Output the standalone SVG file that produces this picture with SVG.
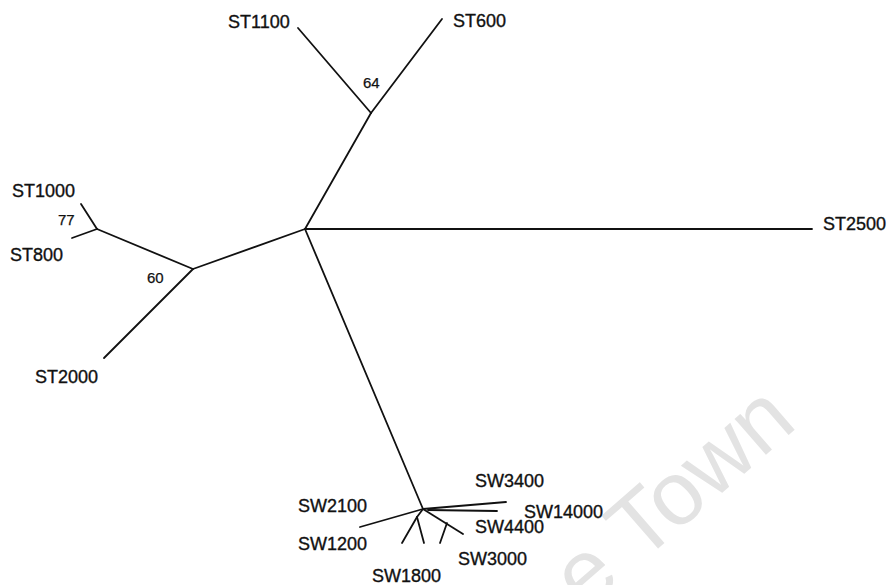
<svg xmlns="http://www.w3.org/2000/svg" width="890" height="585" viewBox="0 0 890 585">
<style>
.lbl{font-family:"Liberation Sans",Arial,sans-serif;font-size:18px;fill:#111;stroke:#111;stroke-width:0.35}
.num{font-family:"Liberation Sans",Arial,sans-serif;font-size:15px;fill:#111;stroke:#111;stroke-width:0.25}
.edge{stroke:#111;stroke-width:1.8;fill:none;stroke-linecap:round}
.wm{font-family:"Liberation Sans",Arial,sans-serif;font-size:90px;fill:#e3e3e3}
</style>
<rect width="890" height="585" fill="#fff"/>
<text class="wm" transform="translate(585,612) rotate(-41)">e Town</text>
<g id="connectors">
<line class="edge" x1="305" y1="229" x2="812" y2="229"/>
<line class="edge" x1="305" y1="229" x2="371" y2="113"/>
<line class="edge" x1="371" y1="113" x2="298" y2="28"/>
<line class="edge" x1="371" y1="113" x2="442" y2="19"/>
<line class="edge" x1="305" y1="229" x2="193" y2="269"/>
<line class="edge" x1="193" y1="269" x2="97" y2="229"/>
<line class="edge" x1="97" y1="229" x2="81" y2="204"/>
<line class="edge" x1="97" y1="229" x2="72" y2="238"/>
<line class="edge" x1="193" y1="269" x2="104" y2="358"/>
<line class="edge" x1="305" y1="229" x2="423" y2="509"/>
<line class="edge" x1="423" y1="509" x2="360" y2="527"/>
<line class="edge" x1="423" y1="509" x2="506" y2="502"/>
<line class="edge" x1="428" y1="510" x2="497" y2="511"/>
<line class="edge" x1="423" y1="509" x2="463" y2="534"/>
<line class="edge" x1="447" y1="523" x2="440" y2="543"/>
<line class="edge" x1="423" y1="509" x2="417" y2="517"/>
<line class="edge" x1="417" y1="517" x2="402" y2="543"/>
<line class="edge" x1="417" y1="517" x2="424" y2="543"/>
</g>
<g id="ST1100"><text class="lbl" x="228" y="28">ST1100</text></g>
<g id="ST600"><text class="lbl" x="453" y="27">ST600</text></g>
<g id="support64"><text class="num" x="363" y="88">64</text></g>
<g id="ST1000"><text class="lbl" x="12" y="197">ST1000</text></g>
<g id="support77"><text class="num" x="58" y="225">77</text></g>
<g id="ST800"><text class="lbl" x="10" y="261">ST800</text></g>
<g id="support60"><text class="num" x="147" y="283">60</text></g>
<g id="ST2000"><text class="lbl" x="35" y="383">ST2000</text></g>
<g id="ST2500"><text class="lbl" x="823" y="230">ST2500</text></g>
<g id="SW3400"><text class="lbl" x="475" y="487">SW3400</text></g>
<g id="SW2100"><text class="lbl" x="298" y="512">SW2100</text></g>
<g id="SW14000"><text class="lbl" x="524" y="518">SW14000</text></g>
<g id="SW4400"><text class="lbl" x="475" y="533">SW4400</text></g>
<g id="SW1200"><text class="lbl" x="298" y="550">SW1200</text></g>
<g id="SW3000"><text class="lbl" x="458" y="565">SW3000</text></g>
<g id="SW1800"><text class="lbl" x="372" y="582">SW1800</text></g>
</svg>
